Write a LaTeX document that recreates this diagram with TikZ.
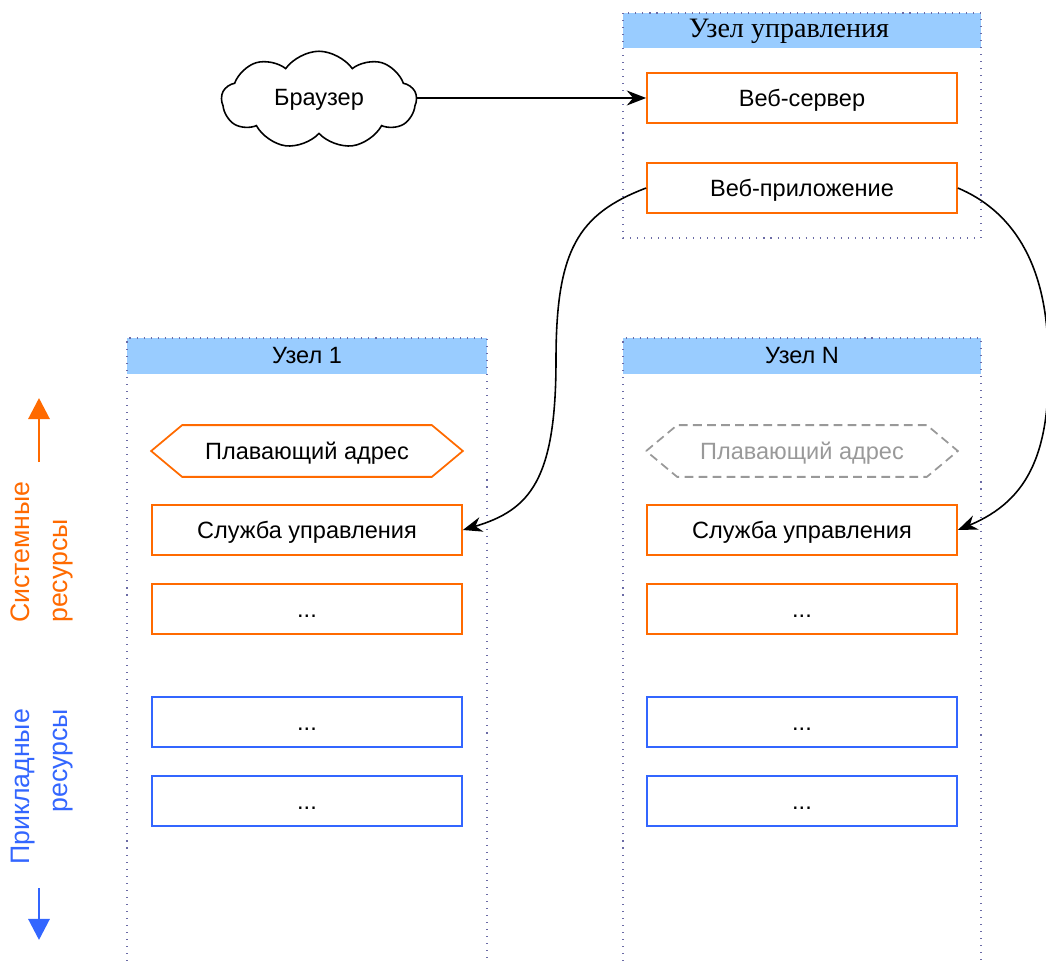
\documentclass[tikz,border=0pt]{standalone}
\usepackage{fontspec}
\setmainfont{Liberation Sans}
\newfontfamily\headfont{Liberation Serif}
\usetikzlibrary{arrows.meta,shapes.symbols}
\definecolor{hdrblue}{HTML}{99CCFF}
\definecolor{sysorange}{HTML}{FF6A00}
\definecolor{appblue}{HTML}{3366FF}
\definecolor{framegray}{HTML}{6B6BA6}
\definecolor{ghostgray}{HTML}{999999}

\begin{document}
\begin{tikzpicture}[x=0.02cm,y=-0.02cm,
		box/.style={draw,line width=1pt,minimum width=6.2cm,minimum height=1cm,inner sep=0pt,
			font=\fontsize{13.4}{15}\selectfont,text height=12.5pt,text depth=2.5pt},
		sysbox/.style={box,draw=sysorange},
		appbox/.style={box,draw=appblue},
		floatbox/.style={box,draw=none},
		header/.style={fill=hdrblue,minimum height=0.71cm,inner sep=0pt,font=\fontsize{13.4}{15}\selectfont},
		frame/.style={framegray,line width=0.6pt,dash pattern=on 0.6pt off 3.4pt},
		link/.style={-{Stealth[length=11pt,width=8.5pt]},line width=0.9pt},
		sidearrow/.style={-{Triangle[length=12pt,width=12pt]},line width=1.7pt}]
		\useasboundingbox (0,0) rectangle (1046,963);
		% management node
		\node[header,minimum width=7.16cm] (mgmthead) at (802,30.5) {};
		\node[font=\headfont\fontsize{16}{18}\selectfont,inner sep=0pt] (mgmttitle) at (789,31) {Узел управления};
		\draw[frame] (623,13) rectangle (981,238);
		\node[sysbox] (websrv) at (802,98) {Веб-сервер};
		\node[sysbox] (webapp) at (802,188) {Веб-приложение};
		\node[cloud,draw,line width=0.9pt,cloud puffs=9,cloud puff arc=110,aspect=2.1,minimum width=3.9cm,minimum height=1.95cm,
			inner sep=0pt,font=\fontsize{13.4}{15}\selectfont] (browser) at (319,100) {Браузер};
		\draw[link] (browser.east |- websrv.west) -- (websrv.west);
		% node 1
		\node[header,minimum width=7.2cm] (head1) at (307,356) {Узел 1};
		\draw[frame] (127,968) -- (127,338) -- (487,338) -- (487,968);
		\node[floatbox] (float1) at (307,451) {Плавающий адрес};
		\draw[sysorange,line width=1pt] (float1.west) -- ([xshift=0.62cm]float1.north west) -- ([xshift=-0.62cm]float1.north east)
			-- (float1.east) -- ([xshift=-0.62cm]float1.south east) -- ([xshift=0.62cm]float1.south west) -- cycle;
		\node[sysbox] (svc1) at (307,530) {Служба управления};
		\node[sysbox] (sysmore1) at (307,609) {...};
		\node[appbox] (appa1) at (307,722) {...};
		\node[appbox] (appb1) at (307,801) {...};
		% node N
		\node[header,minimum width=7.16cm] (headN) at (802,356) {Узел N};
		\draw[frame] (623,968) -- (623,338) -- (981,338) -- (981,968);
		\node[floatbox,text=ghostgray] (floatN) at (802,451) {Плавающий адрес};
		\draw[ghostgray,line width=1pt,dash pattern=on 5pt off 3pt] (floatN.west) -- ([xshift=0.62cm]floatN.north west) -- ([xshift=-0.62cm]floatN.north east)
			-- (floatN.east) -- ([xshift=-0.62cm]floatN.south east) -- ([xshift=0.62cm]floatN.south west) -- cycle;
		\node[sysbox] (svcN) at (802,530) {Служба управления};
		\node[sysbox] (sysmoreN) at (802,609) {...};
		\node[appbox] (appaN) at (802,722) {...};
		\node[appbox] (appbN) at (802,801) {...};
		% control links
		\draw[link] (webapp.west) .. controls (578,214) and (556,250) .. (556,360)
			.. controls (556,480) and (530,510) .. (svc1.east);
		\draw[link] (webapp.east) .. controls (1010,210) and (1046,260) .. (1048,350)
			.. controls (1052,450) and (1030,500) .. (svcN.east);
		% resource legend
		\coordinate (sysfoot) at (39,462);
		\coordinate (systip) at (39,398);
		\draw[sidearrow,sysorange] (sysfoot) -- (systip);
		\node[rotate=90,align=left,text=sysorange,font=\fontsize{15.2}{22}\selectfont] (syslabel) at (42,552) {Системные\\ресурсы};
		\node[rotate=90,align=right,text=appblue,font=\fontsize{15.2}{22}\selectfont] (applabel) at (42,787) {Прикладные\\ресурсы};
		\coordinate (appfoot) at (39,888);
		\coordinate (apptip) at (39,940);
		\draw[sidearrow,appblue] (appfoot) -- (apptip);
	\end{tikzpicture}
\end{document}
